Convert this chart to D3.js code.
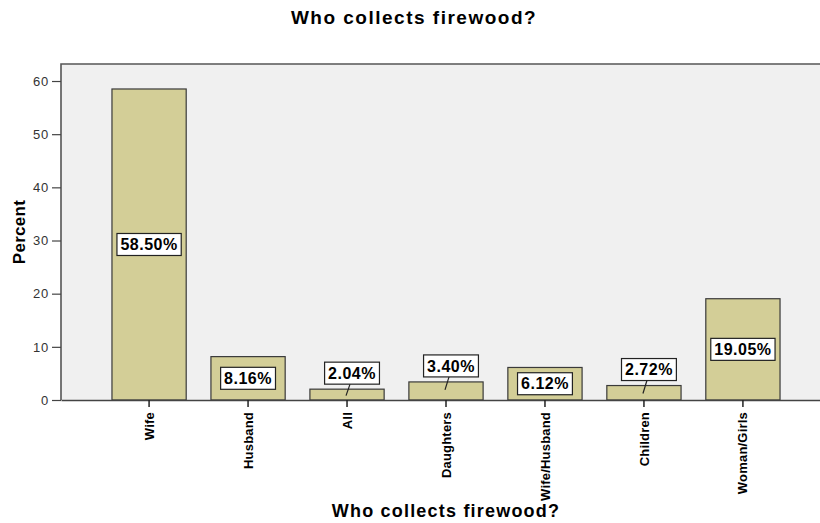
<!DOCTYPE html>
<html>
<head>
<meta charset="utf-8">
<script src="https://cdn.jsdelivr.net/npm/d3@7"></script>
<style>
  html, body { margin: 0; padding: 0; background: #ffffff; }
  svg { display: block; font-family: "Liberation Sans", Arial, sans-serif; }
</style>
</head>
<body>
<svg id="chart" width="820" height="523"></svg>
<script>
// Who collects firewood? — share of households (percent)
const categories = ["Wife", "Husband", "All", "Daughters", "Wife/Husband", "Children", "Woman/Girls"];
const percents = [58.50, 8.16, 2.04, 3.40, 6.12, 2.72, 19.05];
const yTicks = [0, 10, 20, 30, 40, 50, 60];
const titleText = "Who collects firewood?";
const xTitleText = "Who collects firewood?";
const yTitleText = "Percent";

const svg = d3.select("#chart");
const plot = { left: 61, top: 64, right: 831, bottom: 400 };

const x = d3.scaleBand()
  .domain(categories)
  .range([plot.left, plot.right])
  .paddingInner(0.25)
  .paddingOuter(0.515);

const y = d3.scaleLinear()
  .domain([0, 63.2])
  .range([plot.bottom, plot.top]);

// plot background
svg.append("rect")
  .attr("x", plot.left).attr("y", plot.top)
  .attr("width", plot.right - plot.left).attr("height", plot.bottom - plot.top)
  .attr("fill", "#f0f0f0");

// bars
svg.append("g").selectAll("rect")
  .data(categories)
  .join("rect")
  .attr("x", d => x(d))
  .attr("y", (d, i) => y(percents[i]))
  .attr("width", x.bandwidth())
  .attr("height", (d, i) => y(0) - y(percents[i]))
  .attr("fill", "#d3ce97")
  .attr("stroke", "#3a3a3a")
  .attr("stroke-width", 1.2);

// frame: top and left border
svg.append("path")
  .attr("d", `M${plot.left},${plot.bottom} V${plot.top} H${plot.right}`)
  .attr("fill", "none")
  .attr("stroke", "#555")
  .attr("stroke-width", 1.6);

// y axis
const yAxis = svg.append("g")
  .attr("transform", `translate(${plot.left},0)`)
  .call(d3.axisLeft(y).tickValues(yTicks).tickSize(9).tickPadding(3).tickFormat(d3.format("d")));
yAxis.select(".domain").remove();
yAxis.selectAll("line").attr("stroke", "#444").attr("stroke-width", 1.2);
yAxis.selectAll("text")
  .attr("fill", "#333")
  .style("font-size", "13px")
  .style("letter-spacing", "0.8px");

// x axis
const xAxis = svg.append("g")
  .attr("transform", `translate(0,${plot.bottom})`)
  .call(d3.axisBottom(x).tickSize(7).tickSizeOuter(0));
xAxis.select(".domain")
  .attr("stroke", "#444")
  .attr("stroke-width", 1.6);
xAxis.selectAll(".tick line").attr("stroke", "#222").attr("stroke-width", 1.5);
xAxis.selectAll(".tick text")
  .attr("transform", "rotate(-90)")
  .attr("x", -12)
  .attr("y", 0)
  .attr("dy", "0.35em")
  .attr("text-anchor", "end")
  .attr("fill", "#000")
  .style("font-size", "13px")
  .style("font-weight", "bold")
  .style("letter-spacing", "0.2px");

// value labels in white boxes
const labels = svg.append("g");
const boxH = 22;
categories.forEach((c, i) => {
  const v = percents[i];
  const cx = x(c) + x.bandwidth() / 2;
  const top = y(v);
  const barH = y(0) - top;
  const g = labels.append("g");
  const t = g.append("text")
    .text(d3.format(".2f")(v) + "%")
    .attr("text-anchor", "middle")
    .attr("dy", "0.36em")
    .style("font-size", "16px")
    .style("font-weight", "bold")
    .style("letter-spacing", "0.5px")
    .attr("fill", "#000");
  const w = t.node().getComputedTextLength() + 7;
  let bx = cx, by = top + barH / 2;
  if (barH < boxH + 6) {
    // small bar: box sits above it, joined by a short leader line
    bx = cx + 5;
    by = top - 5 - boxH / 2;
    labels.insert("line", ":first-child")
      .attr("x1", cx - 1).attr("y1", top + Math.min(barH * 0.6, 8))
      .attr("x2", cx + 3).attr("y2", by + boxH / 2)
      .attr("stroke", "#222").attr("stroke-width", 1.2);
  }
  t.attr("x", bx).attr("y", by);
  g.insert("rect", "text")
    .attr("x", bx - w / 2).attr("y", by - boxH / 2)
    .attr("width", w).attr("height", boxH)
    .attr("fill", "#fff")
    .attr("stroke", "#222")
    .attr("stroke-width", 1.2);
});

// titles
svg.append("text")
  .attr("x", 414).attr("y", 24)
  .attr("text-anchor", "middle")
  .style("font-size", "19px").style("font-weight", "bold").style("letter-spacing", "1.5px")
  .text(titleText);

svg.append("text")
  .attr("x", (plot.left + plot.right) / 2).attr("y", 517)
  .attr("text-anchor", "middle")
  .style("font-size", "18px").style("font-weight", "bold").style("letter-spacing", "1.2px")
  .text(xTitleText);

svg.append("text")
  .attr("transform", `translate(25,${(plot.top + plot.bottom) / 2}) rotate(-90)`)
  .attr("text-anchor", "middle")
  .style("font-size", "17px").style("font-weight", "bold").style("letter-spacing", "0.3px")
  .text(yTitleText);
</script>
</body>
</html>
